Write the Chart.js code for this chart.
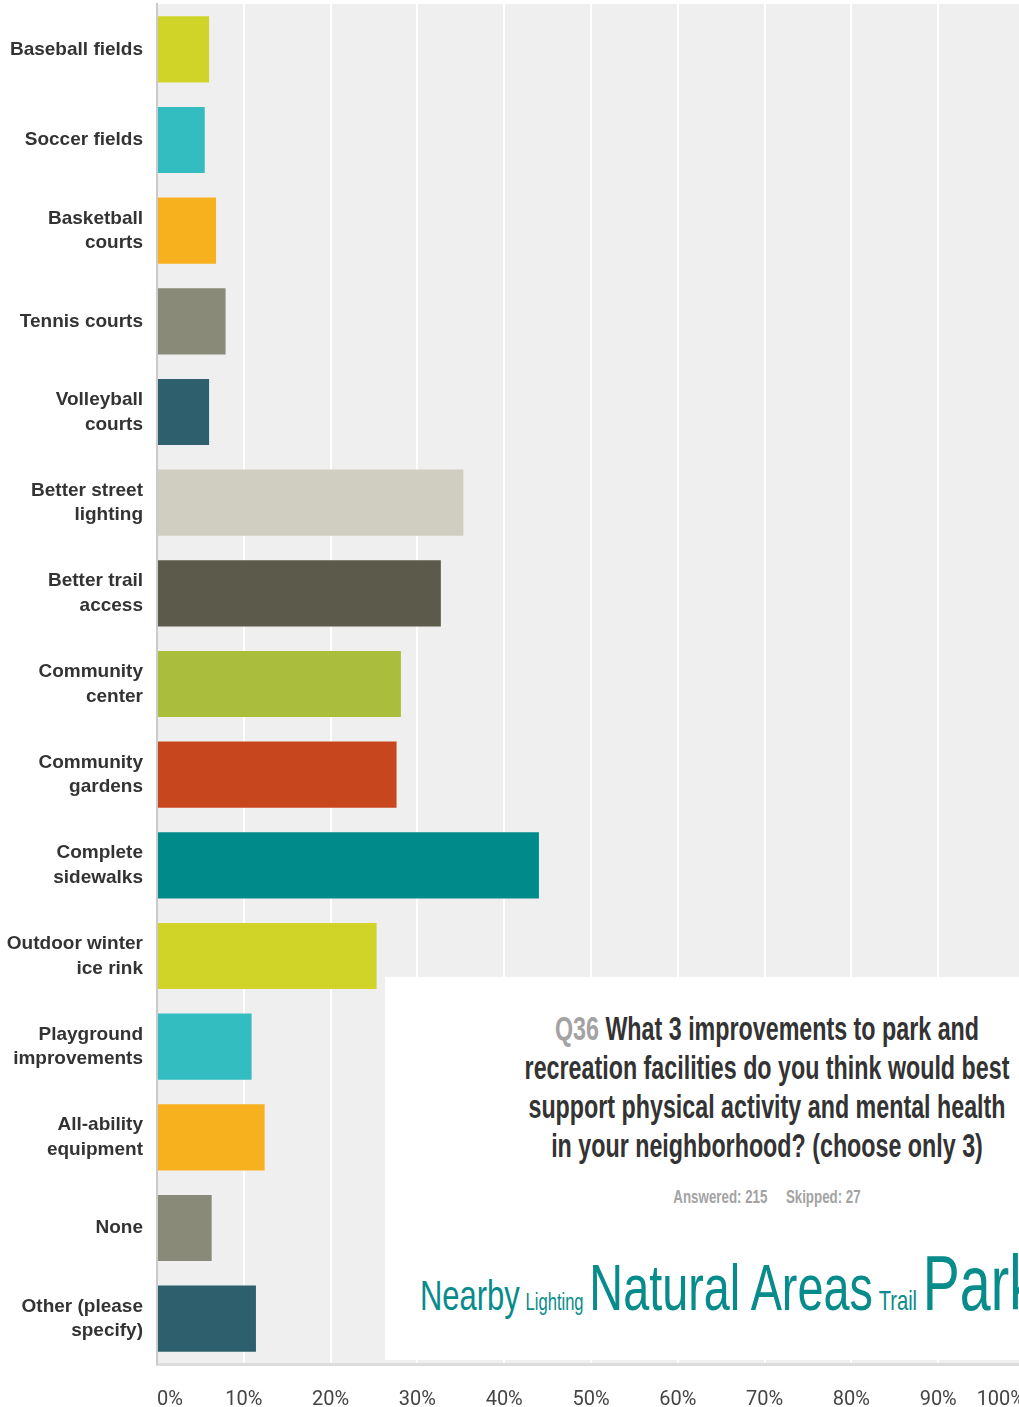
<!DOCTYPE html>
<html>
<head>
<meta charset="utf-8">
<script src="https://cdn.jsdelivr.net/npm/chart.js@4.4.1/dist/chart.umd.min.js"></script>
<style>
  html, body { margin: 0; padding: 0; overflow: hidden; background: #fff; width: 1019px; height: 1407px; }
  #wrap { position: relative; width: 1019px; height: 1407px; overflow: hidden; }
  #c { position: absolute; left: 0; top: 0; }
  #box { position: absolute; left: 385px; top: 977px; width: 764px; height: 383px; background: #fff; overflow: hidden; }
  .tl { position: absolute; left: 0; width: 764px; text-align: center; white-space: nowrap;
        font-family: 'Liberation Sans', Arial, sans-serif; font-weight: bold; font-size: 33px; line-height: 39px;
        color: #333; transform: scaleX(0.705); transform-origin: 382px 50%; }
  .q { color: #a3a3a3; }
  #stats { position: absolute; left: 0; width: 764px; top: 208px; text-align: center; white-space: nowrap;
        font-family: 'Liberation Sans', Arial, sans-serif; font-weight: bold; font-size: 18px; line-height: 24px;
        color: #a3a3a3; transform: scaleX(0.74); transform-origin: 382px 50%; }
  #cloud { position: absolute; left: 35px; top: 261px; white-space: nowrap; font-family: 'Liberation Sans', Arial, sans-serif;
        font-size: 77px; line-height: 90px; color: #078b8b; transform: scaleX(0.72); transform-origin: 0 50%; }
  #cloud span { line-height: 1; margin-right: 8px; }
</style>
</head>
<body>
<div id="wrap">
  <canvas id="c" width="1030" height="1407" style="width:1030px;height:1407px"></canvas>
  <div id="box">
    <div class="tl" style="top:32px"><span class="q">Q36</span> What 3 improvements to park and</div>
    <div class="tl" style="top:71px">recreation facilities do you think would best</div>
    <div class="tl" style="top:110px">support physical activity and mental health</div>
    <div class="tl" style="top:149px">in your neighborhood? (choose only 3)</div>
    <div id="stats">Answered: 215&nbsp;&nbsp;&nbsp;&nbsp;&nbsp;Skipped: 27</div>
    <div id="cloud"><span style="font-size:43px">Nearby</span><span style="font-size:23px">Lighting</span><span style="font-size:65px">Natural Areas</span><span style="font-size:28px">Trail</span><span style="font-size:77px">Park</span></div>
  </div>
</div>
<script>
const categories = [
  'Baseball fields',
  'Soccer fields',
  ['Basketball', 'courts'],
  'Tennis courts',
  ['Volleyball', 'courts'],
  ['Better street', 'lighting'],
  ['Better trail', 'access'],
  ['Community', 'center'],
  ['Community', 'gardens'],
  ['Complete', 'sidewalks'],
  ['Outdoor winter', 'ice rink'],
  ['Playground', 'improvements'],
  ['All-ability', 'equipment'],
  'None',
  ['Other (please', 'specify)']
];
const percentValues = [6.0, 5.5, 6.8, 7.9, 6.0, 35.3, 32.7, 28.1, 27.6, 44.0, 25.3, 10.9, 12.4, 6.3, 11.4];
const barColors = ['#d0d428', '#33bdc0', '#f7b11e', '#8a8a78', '#2e5f6c', '#d0cec0', '#5c5a4b', '#abbd3c', '#c8461d', '#008b8b', '#d0d428', '#33bdc0', '#f7b11e', '#8a8a78', '#2e5f6c'];
const xTicks = [0, 10, 20, 30, 40, 50, 60, 70, 80, 90, 100];

const plotBg = {
  id: 'plotBg',
  beforeDraw(chart) {
    const {ctx, chartArea: a} = chart;
    ctx.save();
    ctx.fillStyle = '#efefef';
    ctx.fillRect(a.left, a.top, a.right - a.left, a.bottom - a.top);
    ctx.restore();
  }
};

new Chart(document.getElementById('c'), {
  type: 'bar',
  data: {
    labels: categories,
    datasets: [{
      data: percentValues,
      backgroundColor: barColors,
      borderWidth: 0,
      barPercentage: 0.73,
      categoryPercentage: 1.0
    }]
  },
  options: {
    indexAxis: 'y',
    responsive: false,
    animation: false,
    layout: { padding: { top: 4, right: 5, left: 0, bottom: 0 } },
    plugins: { legend: { display: false }, tooltip: { enabled: false } },
    scales: {
      x: {
        type: 'linear',
        min: 0, max: 100,
        afterBuildTicks(scale) { scale.ticks = xTicks.map(v => ({ value: v })); },
        afterFit(scale) { scale.height = 43; scale.paddingLeft = 0; scale.paddingRight = 0; },
        grid: { color: '#ffffff', lineWidth: 2, drawTicks: false },
        border: { display: true, color: '#dcdcdc', width: 3 },
        ticks: {
          align: 'inner',
          padding: 24,
          color: '#444',
          font: { family: "Roboto, 'Liberation Sans', Arial, sans-serif", size: 20 },
          callback: v => v + '%'
        }
      },
      y: {
        afterFit(scale) { scale.width = 157; scale.paddingTop = 0; scale.paddingBottom = 0; },
        grid: { display: false, drawTicks: false },
        border: { display: true, color: '#cacaca', width: 2 },
        ticks: {
          autoSkip: false,
          padding: 14,
          color: '#333',
          font: { family: "'Liberation Sans', Arial, sans-serif", size: 19, weight: 'bold', lineHeight: 1.3 }
        }
      }
    }
  },
  plugins: [plotBg]
});
</script>
</body>
</html>
